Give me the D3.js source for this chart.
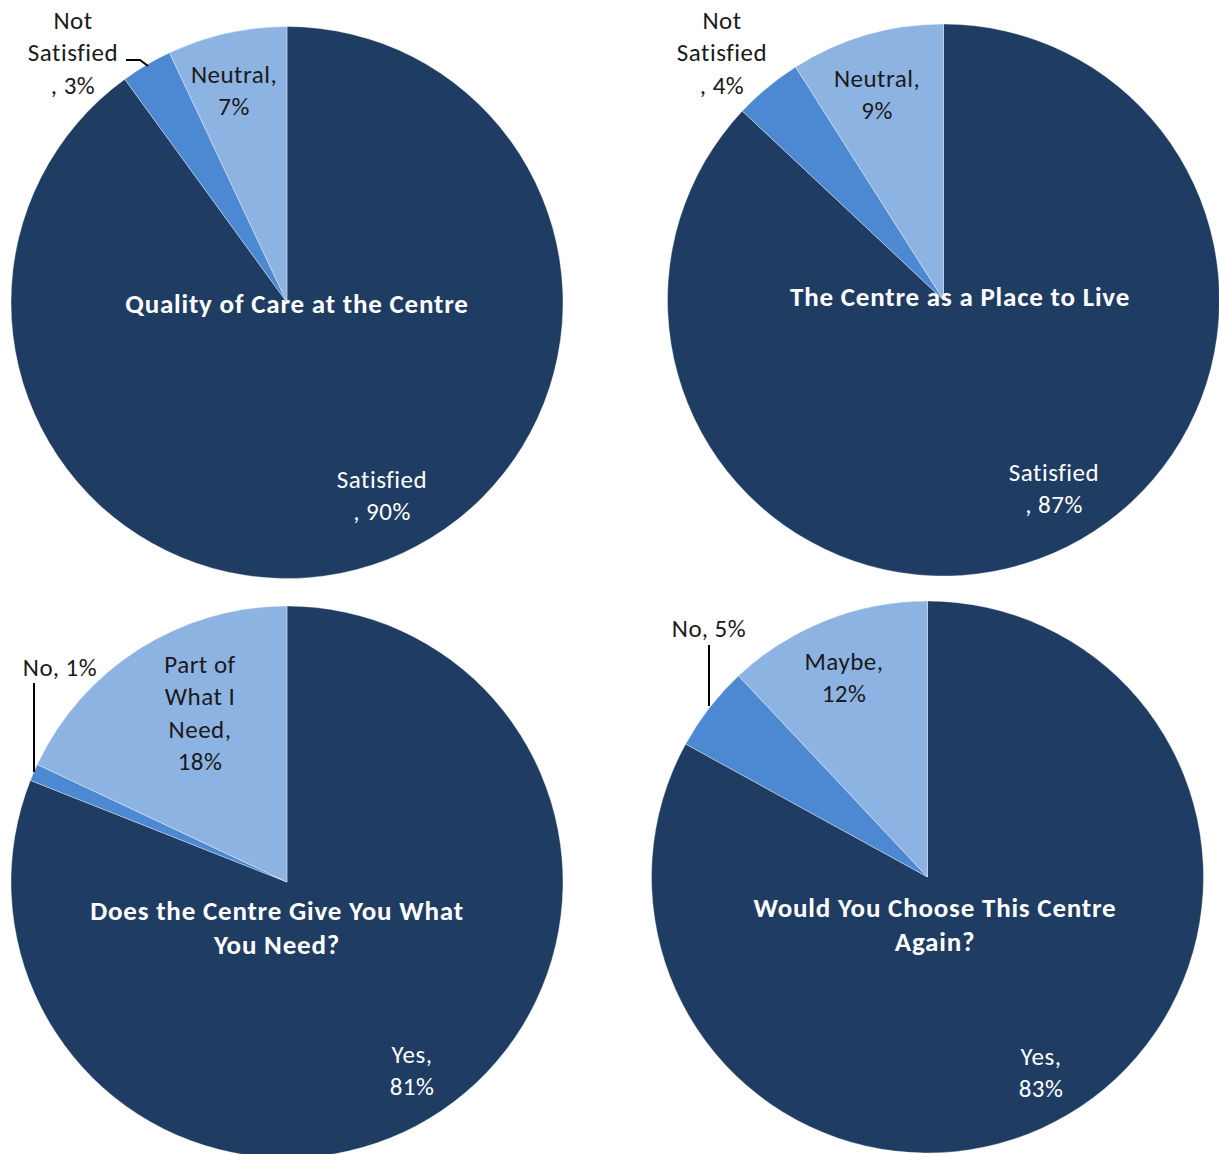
<!DOCTYPE html>
<html>
<head>
<meta charset="utf-8">
<script src="https://cdn.jsdelivr.net/npm/d3@7"></script>
<style>
  html, body { margin: 0; padding: 0; background: #ffffff; }
  svg { display: block; }
  text { font-family: Carlito, Lato, "Open Sans", sans-serif; }
</style>
</head>
<body>
<svg id="chart" width="1219" height="1154"></svg>
<script>
// Survey results: four questions, each split into three answers
const titles = [
  ["Quality of Care at the Centre"],
  ["The Centre as a Place to Live"],
  ["Does the Centre Give You What", "You Need?"],
  ["Would You Choose This Centre", "Again?"]
];
const categories = [
  ["Satisfied", "Not Satisfied", "Neutral"],
  ["Satisfied", "Not Satisfied", "Neutral"],
  ["Yes", "No", "Part of What I Need"],
  ["Yes", "No", "Maybe"]
];
const qualityValues = [90, 3, 7];
const placeValues   = [87, 4, 9];
const needValues    = [81, 1, 18];
const againValues   = [83, 5, 12];
const seriesValues = [qualityValues, placeValues, needValues, againValues];

// Drawing layout: pie centres, label offsets (relative to centre), line grouping
const colors = ["#1f3c63", "#4d88d2", "#8db3e2"];
const radius = 276;
const lineH = 32.5;
const pies = [
  { cx: 287, cy: 302.5, title: [10, 1],
    labels: [
      { dx: 95, dy: 176.5, groups: [1, 2], fill: "#ffffff" },
      { dx: -214, dy: -282.5, groups: [1, 1, 2], fill: "#1a1a1a" },
      { dx: -53, dy: -228.5, groups: [2, 1], fill: "#1a1a1a" }
    ],
    leader: [[-161, -242.5], [-147, -242.5], [-139, -236.5]] },
  { cx: 943.5, cy: 300, title: [16.5, -4],
    labels: [
      { dx: 110.5, dy: 172, groups: [1, 2], fill: "#ffffff" },
      { dx: -221.5, dy: -280, groups: [1, 1, 2], fill: "#1a1a1a" },
      { dx: -66.5, dy: -222, groups: [2, 1], fill: "#1a1a1a" }
    ],
    leader: null },
  { cx: 287, cy: 882, title: [-10, 28],
    labels: [
      { dx: 125, dy: 172, groups: [2, 1], fill: "#ffffff" },
      { dx: -227, dy: -215, groups: [3], fill: "#1a1a1a" },
      { dx: -87, dy: -218, groups: [2, 2, 2, 1], fill: "#1a1a1a" }
    ],
    leader: [[-253, -199], [-253, -110]] },
  { cx: 927.5, cy: 877, title: [7.5, 30],
    labels: [
      { dx: 113.5, dy: 179, groups: [2, 1], fill: "#ffffff" },
      { dx: -218.5, dy: -249, groups: [3], fill: "#1a1a1a" },
      { dx: -83.5, dy: -216, groups: [2, 1], fill: "#1a1a1a" }
    ],
    leader: [[-218.5, -232], [-218.5, -171]] }
];

// Split "Name, 12%" into tokens and regroup them into label lines
function labelLines(name, value, groups) {
  const tokens = name.split(" ").concat([",", value + "%"]);
  const lines = [];
  let i = 0;
  groups.forEach(n => {
    const part = tokens.slice(i, i + n);
    i += n;
    let s = "";
    part.forEach((t, k) => {
      if (k === 0) s = t;
      else if (t === ",") s += ",";
      else s += " " + t;
    });
    lines.push(s);
  });
  return lines;
}

const svg = d3.select("#chart");
const pie = d3.pie().sort(null).value(d => d);
const arc = d3.arc().innerRadius(0).outerRadius(radius);
const color = d3.scaleOrdinal().domain([0, 1, 2]).range(colors);

pies.forEach((p, ci) => {
  const g = svg.append("g").attr("transform", `translate(${p.cx},${p.cy})`);
  const arcs = pie(seriesValues[ci]);

  g.selectAll("path.slice")
    .data(arcs)
    .join("path")
    .attr("class", "slice")
    .attr("d", arc)
    .attr("fill", (d, i) => color(i))
    .attr("stroke", "rgba(255,255,255,0.35)")
    .attr("stroke-width", 1);

  // Chart title in the dark slice
  g.append("text")
    .attr("text-anchor", "middle")
    .attr("fill", "#ffffff")
    .attr("font-weight", "bold")
    .attr("font-size", 27)
    .attr("letter-spacing", 0.8)
    .selectAll("tspan")
    .data(titles[ci])
    .join("tspan")
    .attr("x", p.title[0])
    .attr("y", (d, i) => p.title[1] + i * 34)
    .attr("dominant-baseline", "central")
    .text(d => d);

  // Leader line for small slices
  if (p.leader) {
    g.append("path")
      .attr("d", d3.line()(p.leader))
      .attr("fill", "none")
      .attr("stroke", "#000000")
      .attr("stroke-width", 2);
  }

  // Data labels
  arcs.forEach((a, i) => {
    const L = p.labels[i];
    const lines = labelLines(categories[ci][i], seriesValues[ci][i], L.groups);
    g.append("text")
      .attr("text-anchor", "middle")
      .attr("fill", L.fill)
      .attr("font-size", 25)
      .attr("letter-spacing", 0.5)
      .selectAll("tspan")
      .data(lines)
      .join("tspan")
      .attr("x", L.dx)
      .attr("y", (d, k) => L.dy + k * lineH)
      .attr("dominant-baseline", "central")
      .text(d => d);
  });
});
</script>
</body>
</html>
